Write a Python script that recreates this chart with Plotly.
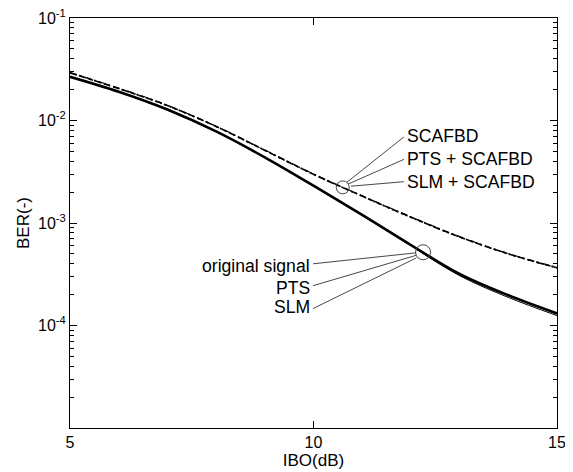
import numpy as np
import plotly.graph_objects as go

# ---------------- data ----------------
ibo_db = [5, 6, 7, 8, 9, 10, 11, 12, 13, 14, 15]

ber_original = [0.0267, 0.0191, 0.0128, 0.00782, 0.00437, 0.00231, 0.00120, 0.000610, 0.000318, 0.000197, 0.000131]
ber_pts      = [0.0267, 0.0191, 0.0128, 0.00782, 0.00437, 0.00231, 0.00119, 0.000598, 0.000306, 0.000188, 0.000125]
ber_slm      = [0.0266, 0.0190, 0.0127, 0.00780, 0.00436, 0.00230, 0.00119, 0.000607, 0.000316, 0.000196, 0.000130]

ber_scafbd     = [0.0292, 0.0205, 0.0140, 0.00875, 0.00512, 0.00299, 0.00183, 0.00114, 0.000731, 0.000500, 0.000366]
ber_pts_scafbd = [0.0294, 0.0207, 0.0141, 0.00880, 0.00516, 0.00301, 0.00184, 0.00115, 0.000737, 0.000504, 0.000369]
ber_slm_scafbd = [0.0291, 0.0204, 0.0139, 0.00871, 0.00509, 0.00297, 0.00182, 0.00113, 0.000727, 0.000497, 0.000363]

y_decades = [-5, -4, -3, -2, -1]
y_tick_vals = [1e-4, 1e-3, 1e-2, 1e-1]
y_tick_text = ["10<sup>-4</sup>", "10<sup>-3</sup>", "10<sup>-2</sup>", "10<sup>-1</sup>"]
x_tick_vals = [5, 10, 15]

upper_labels = ["SCAFBD", "PTS + SCAFBD", "SLM + SCAFBD"]
lower_labels = ["original signal", "PTS", "SLM"]

# ---------------- callout geometry ----------------
upper_circle_x = 10.6
lower_circle_x = 12.25
upper_line_starts = [(10.688, -2.602), (10.708, -2.621), (10.770, -2.641)]
upper_line_ends = [(11.858, -2.160), (11.858, -2.379), (11.858, -2.597)]
upper_text_pos = [(11.88, -2.150), (11.88, -2.374), (11.88, -2.597)]
lower_line_starts = [(12.105, -3.291), (12.105, -3.316), (12.115, -3.340)]
lower_line_ends = [(9.990, -3.398), (9.990, -3.612), (9.990, -3.835)]
lower_text_pos = [(9.96, -3.422), (9.96, -3.636), (9.96, -3.820)]

FONT = "Liberation Sans, Arial, Helvetica, sans-serif"
LABEL_SIZE = 17.6

fig = go.Figure()

# solid group
fig.add_trace(go.Scatter(x=ibo_db, y=ber_original, mode="lines", name="original signal",
                         line=dict(color="black", width=2.6, shape="spline")))
fig.add_trace(go.Scatter(x=ibo_db, y=ber_pts, mode="lines", name="PTS",
                         line=dict(color="black", width=1.0, shape="spline")))
fig.add_trace(go.Scatter(x=ibo_db, y=ber_slm, mode="lines", name="SLM",
                         line=dict(color="black", width=1.2, shape="spline")))

# dashed group
fig.add_trace(go.Scatter(x=ibo_db, y=ber_scafbd, mode="lines", name="SCAFBD",
                         line=dict(color="black", width=1.6, dash="6px,3px", shape="spline")))
fig.add_trace(go.Scatter(x=ibo_db, y=ber_pts_scafbd, mode="lines", name="PTS + SCAFBD",
                         line=dict(color="black", width=1.2, dash="7px,3px,2px,3px", shape="spline")))
fig.add_trace(go.Scatter(x=ibo_db, y=ber_slm_scafbd, mode="lines", name="SLM + SCAFBD",
                         line=dict(color="black", width=1.2, dash="2px,3px", shape="spline")))

# circles on the curves
def curve_at(xv, xs, ys):
    return 10 ** np.interp(xv, xs, np.log10(ys))

fig.add_trace(go.Scatter(x=[upper_circle_x], y=[curve_at(upper_circle_x, ibo_db, ber_scafbd)],
                         mode="markers",
                         marker=dict(symbol="circle-open", size=13, color="#444", line=dict(width=1, color="#444"))))
fig.add_trace(go.Scatter(x=[lower_circle_x], y=[curve_at(lower_circle_x, ibo_db, ber_original)],
                         mode="markers",
                         marker=dict(symbol="circle-open", size=15, color="#444", line=dict(width=1, color="#444"))))

# callout lines
for (xs, ys), (xe, ye) in list(zip(upper_line_starts, upper_line_ends)) + list(zip(lower_line_starts, lower_line_ends)):
    fig.add_trace(go.Scatter(x=[xs, xe], y=[10 ** ys, 10 ** ye], mode="lines",
                             line=dict(color="#333", width=0.9)))

# invisible trace on the minor-tick overlay axis
minor_vals = [m * 10.0 ** d for d in y_decades[:-1] for m in range(2, 10)]
fig.add_trace(go.Scatter(x=[5], y=[1e-3], yaxis="y2", mode="markers",
                         marker=dict(opacity=0), hoverinfo="skip"))

annotations = []
for txt, (xx, yy) in zip(upper_labels, upper_text_pos):
    annotations.append(dict(x=xx, y=yy, xref="x", yref="y", text=txt, showarrow=False,
                            xanchor="left", yanchor="middle",
                            font=dict(size=LABEL_SIZE, color="black", family=FONT)))
for txt, (xx, yy) in zip(lower_labels, lower_text_pos):
    annotations.append(dict(x=xx, y=yy, xref="x", yref="y", text=txt, showarrow=False,
                            xanchor="right", yanchor="middle",
                            font=dict(size=LABEL_SIZE, color="black", family=FONT)))

# the page puts the figure 8px in from the top-left corner
fig.update_layout(
    width=573, height=472,
    margin=dict(l=62, r=24, t=10, b=52, autoexpand=False),
    paper_bgcolor="white", plot_bgcolor="white",
    showlegend=False,
    font=dict(family=FONT, size=16, color="black"),
    annotations=annotations,
    xaxis=dict(
        range=[5, 15], tickmode="array", tickvals=x_tick_vals,
        ticks="inside", ticklen=7, tickwidth=1, tickcolor="black",
        showline=True, linecolor="black", linewidth=1, mirror="ticks",
        showgrid=False, zeroline=False, automargin=False,
        ticklabeloverflow="allow",
        tickfont=dict(size=16),
        title=dict(text="IBO(dB)", font=dict(size=17), standoff=0),
    ),
    yaxis=dict(
        type="log", range=[-5, -1.0], tickmode="array",
        tickvals=y_tick_vals, ticktext=y_tick_text,
        ticks="inside", ticklen=7, tickwidth=1, tickcolor="black",
        showline=True, linecolor="black", linewidth=1, mirror="ticks",
        showgrid=False, zeroline=False, automargin=False,
        ticklabeloverflow="allow",
        tickfont=dict(size=16),
        title=dict(text="BER(-)", font=dict(size=17), standoff=4),
    ),
    yaxis2=dict(
        type="log", range=[-5, -1.0], overlaying="y", side="left",
        tickmode="array", tickvals=minor_vals, showticklabels=False,
        ticks="inside", ticklen=4, tickwidth=1, tickcolor="black",
        showline=False, mirror="ticks",
        showgrid=False, zeroline=False, automargin=False,
    ),
)

fig.write_html("out.html")
